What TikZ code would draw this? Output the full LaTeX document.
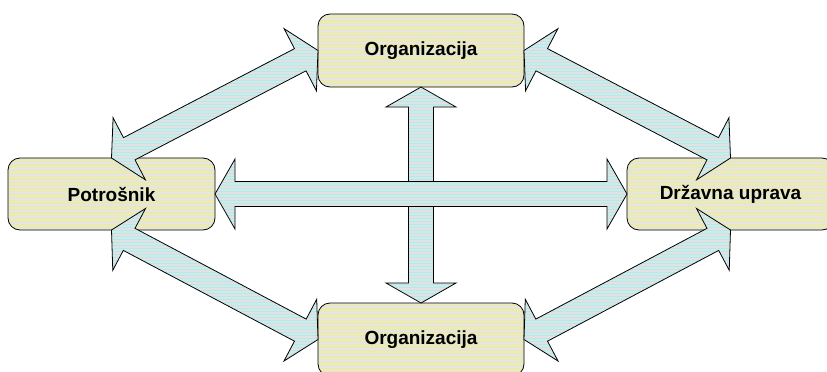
\documentclass[tikz,border=0pt]{standalone}
\usepackage{fontspec}
\setmainfont{Liberation Sans}
\usetikzlibrary{calc,patterns}
\definecolor{boxbg}{HTML}{E6E6E0}
\definecolor{boxln}{HTML}{F0EC90}
\definecolor{arrbg}{HTML}{E2E2E2}
\definecolor{arrln}{HTML}{A8F0F0}
\tikzset{
  boxnode/.style={draw=black, line width=0.8pt, rounded corners=12pt,
    minimum width=206pt, minimum height=73pt, outer sep=0pt, inner sep=0pt,
    preaction={fill=boxbg}, pattern=horizontal lines, pattern color=boxln,
    font=\fontsize{19}{22}\selectfont\bfseries},
  arrshape/.style={draw=black, line width=0.8pt, line join=miter,
    preaction={fill=arrbg}, pattern=horizontal lines, pattern color=arrln}
}
\newcommand\dblarr[2]{%
  \coordinate (hA) at ($(#1)!20pt!(#2)$);
  \coordinate (hB) at ($(#2)!20pt!(#1)$);
  \draw[arrshape] (#1)
    -- ($(hA)!35pt!90:(#2)$) -- ($(hA)!12.5pt!90:(#2)$)
    -- ($(hB)!12.5pt!-90:(#1)$) -- ($(hB)!35pt!-90:(#1)$)
    -- (#2)
    -- ($(hB)!35pt!90:(#1)$) -- ($(hB)!12.5pt!90:(#1)$)
    -- ($(hA)!12.5pt!-90:(#2)$) -- ($(hA)!35pt!-90:(#2)$)
    -- cycle;}
\begin{document}
\begin{tikzpicture}[x=1pt,y=-1pt]
\useasboundingbox (0,0) rectangle (827,372);
\clip (0,0) rectangle (827,372);
\node[boxnode] (org1) at (421,50.5) {Organizacija};
\node[boxnode] (org2) at (421,339.5) {Organizacija};
\node[boxnode, minimum width=207pt, minimum height=72pt] (pot) at (111.5,194) {Potrošnik};
\node[boxnode, minimum width=207pt, minimum height=72pt] (drz) at (730.5,194) {Državna uprava};
\dblarr{org1.south}{org2.north}
\dblarr{pot.east}{drz.west}
\dblarr{pot.north}{org1.west}
\dblarr{org1.east}{drz.north}
\dblarr{pot.south}{org2.west}
\dblarr{org2.east}{drz.south}
\end{tikzpicture}
\end{document}
